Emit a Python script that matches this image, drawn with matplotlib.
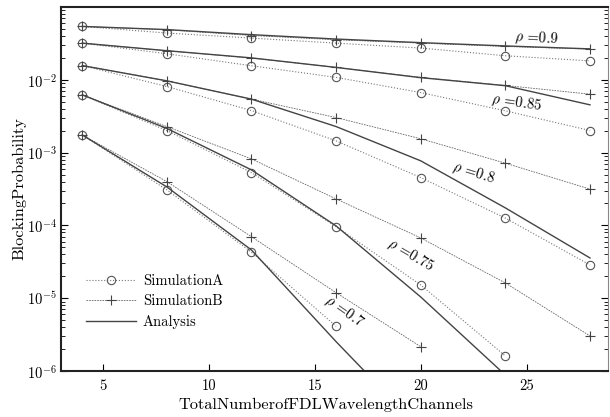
import numpy as np
import matplotlib
matplotlib.use("Agg")
import matplotlib.pyplot as plt
from matplotlib.ticker import FixedLocator, FuncFormatter, LogLocator, NullFormatter

plt.rcParams['font.family'] = ['cmr10']
plt.rcParams['mathtext.fontset'] = 'cm'
plt.rcParams['axes.formatter.use_mathtext'] = True

nan = np.nan
channels = [4, 8, 12, 16, 20, 24, 28]
rhos = ["0.9", "0.85", "0.8", "0.75", "0.7"]

sim_a_09 = [0.0541, 0.0439, 0.0374, 0.0319, 0.0273, 0.0214, 0.0182]
sim_b_09 = [0.0541, 0.0486, 0.0406, 0.0355, 0.0319, 0.0287, 0.0264]
ana_09 = [0.0541, 0.0490, 0.0417, 0.0363, 0.0324, 0.0292, 0.0266]

sim_a_085 = [0.0319, 0.0228, 0.0156, 0.0108, 0.00668, 0.00375, 0.00201]
sim_b_085 = [0.0319, 0.0251, 0.0199, 0.0148, 0.0108, 0.00836, 0.00635]
ana_085 = [0.0319, 0.0251, 0.0200, 0.0148, 0.0107, 0.0083, 0.00453]

sim_a_08 = [0.0157, 0.00809, 0.00378, 0.00145, 4.54e-4, 1.26e-4, 2.86e-5]
sim_b_08 = [0.0157, 0.00968, 0.00543, 0.00303, 0.00155, 7.16e-4, 3.15e-4]
ana_08 = [0.0157, 0.00968, 0.00543, 0.00228, 7.71e-4, 1.74e-4, 3.57e-5]

sim_a_075 = [0.00622, 0.00201, 5.32e-4, 9.62e-5, 1.52e-5, 1.61e-6, nan]
sim_b_075 = [0.00622, 0.00228, 8.2e-4, 2.31e-4, 6.73e-5, 1.62e-5, 3.03e-6]
ana_075 = [0.00622, 0.00215, 5.79e-4, 9.84e-5, 1.04e-5, 8.8e-7, nan]

sim_a_07 = [0.00175, 3.08e-4, 4.29e-5, 4.11e-6, nan, nan, nan]
sim_b_07 = [0.00175, 4.0e-4, 7.0e-5, 1.19e-5, 2.16e-6, nan, nan]
ana_07 = [0.00175, 3.38e-4, 4.6e-5, 2.53e-6, 1.58e-7, nan, nan]

sim_a = [sim_a_09, sim_a_085, sim_a_08, sim_a_075, sim_a_07]
sim_b = [sim_b_09, sim_b_085, sim_b_08, sim_b_075, sim_b_07]
ana = [ana_09, ana_085, ana_08, ana_075, ana_07]

x_ticks = [5, 10, 15, 20, 25]
y_ticks = [1e-6, 1e-5, 1e-4, 1e-3, 1e-2]

fig = plt.figure(figsize=(6.1, 4.17), dpi=100)
ax = fig.add_axes([0.1, 0.1103, 0.8967, 0.8729])

style_a = dict(linestyle=':', linewidth=0.8, color='#777777', marker='o', markersize=6,
               markerfacecolor='none', markeredgecolor='#555555', markeredgewidth=0.8)
style_b = dict(linestyle=(0, (2, 1.2)), linewidth=0.6, color='#666666', marker='+', markersize=7,
               markeredgecolor='#444444', markeredgewidth=0.8)
style_n = dict(linestyle='-', linewidth=1.0, color='#444444')

for i in range(len(rhos)):
    ax.plot(channels, sim_a[i], label='SimulationA' if i == 0 else None, **style_a)
    ax.plot(channels, sim_b[i], label='SimulationB' if i == 0 else None, **style_b)
    ax.plot(channels, ana[i], label='Analysis' if i == 0 else None, **style_n)

ax.set_yscale('log')
ax.set_xlim(3, 28.85)
ax.set_ylim(1e-6, 1e-1)

ax.xaxis.set_major_locator(FixedLocator(x_ticks))
ax.xaxis.set_major_formatter(FuncFormatter(lambda v, p: '%d' % v))
ax.yaxis.set_major_locator(FixedLocator(y_ticks))
ax.yaxis.set_major_formatter(FuncFormatter(lambda v, p: r'$10^{%d}$' % int(round(np.log10(v)))))
ax.yaxis.set_minor_locator(LogLocator(base=10, subs=np.arange(2, 10)))
ax.yaxis.set_minor_formatter(NullFormatter())

ax.tick_params(axis='both', which='both', direction='in', labelsize=10.5)
ax.tick_params(axis='y', which='both', right=True)
ax.tick_params(axis='y', which='major', length=5, pad=3)
ax.tick_params(axis='y', which='minor', length=3)
ax.tick_params(axis='x', which='major', length=5, pad=6)

for s in ['left', 'bottom', 'top']:
    ax.spines[s].set_linewidth(1.5)
    ax.spines[s].set_color('#222222')
ax.spines['right'].set_linewidth(0.8)
ax.spines['right'].set_color('#888888')

ax.set_xlabel('TotalNumberofFDLWavelengthChannels', fontsize=11.8)
ax.set_ylabel('BlockingProbability', fontsize=11.8)
ax.xaxis.set_label_coords(0.484, -0.074)
ax.yaxis.set_label_coords(-0.064, 0.5)

label_pos = [(536, 38, -3), (516, 103, -8), (473, 173, -17), (410, 255, -30), (344, 312, -35)]
for r, (px, py, rot) in zip(rhos, label_pos):
    fig.text(px / 610, 1 - py / 417, r'$\rho$ =' + r, fontsize=10.5, rotation=rot,
             ha='center', va='center', rotation_mode='anchor')

ax.legend(loc='upper left', bbox_to_anchor=(0.035, 0.282), frameon=False, fontsize=10.5,
          handlelength=3.4, handletextpad=0.5, labelspacing=0.45, borderaxespad=0)

fig.savefig('out.png', dpi=100)
